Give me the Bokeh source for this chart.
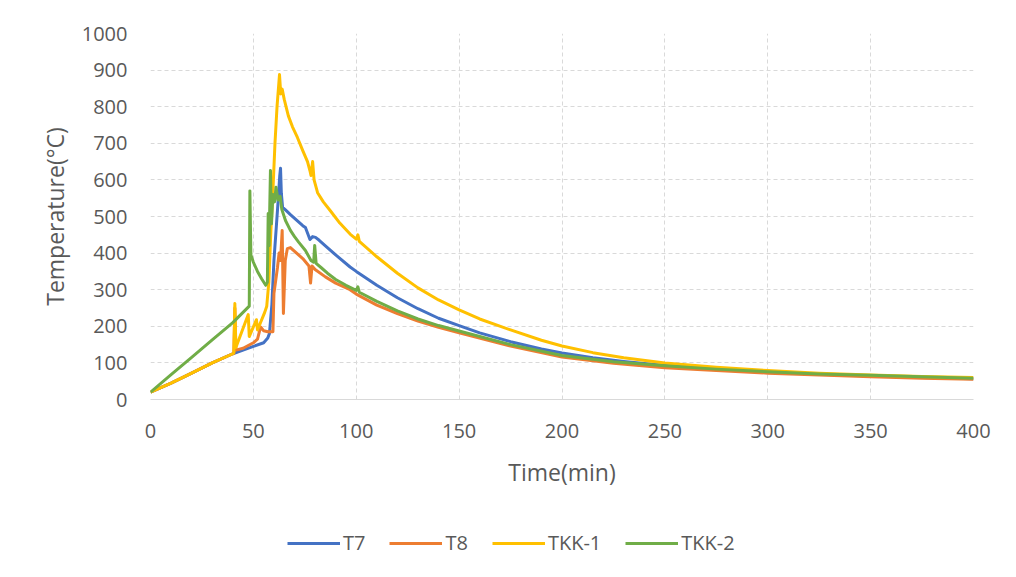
from bokeh.plotting import figure
from bokeh.layouts import column
from bokeh.models import Range1d, Legend, LegendItem, FixedTicker
from bokeh.embed import file_html
from bokeh.resources import INLINE

# ---- data ----
t7_t = [0, 10, 20, 30, 40, 45, 50, 55, 57, 57.8, 59, 60, 61, 62, 62.8, 63.2, 63.6, 64.2, 65.6, 68, 71, 74, 75.3, 77.5, 78.8, 80.2, 82, 85, 90, 97, 100, 110, 120, 130, 140, 150, 160, 175, 190, 200, 215, 230, 250, 275, 300, 325, 350, 375, 400]
t7_v = [20, 45, 72, 100, 125, 135, 145, 155, 168, 180, 260, 380, 460, 540, 610, 632, 563, 525, 518, 505, 490, 475, 470, 437, 445, 443, 435, 420, 395, 362, 350, 312, 278, 248, 222, 202, 182, 158, 138, 127, 114, 104, 93, 82, 75, 69, 64, 60, 57]

t8_t = [0, 10, 20, 30, 40, 40.5, 41, 41.5, 45, 50, 52, 53.5, 55, 57, 59.5, 60, 61.7, 62.5, 63.2, 64, 64.6, 65.5, 66.5, 68, 71, 74, 77, 77.8, 78.5, 80, 85, 90, 97, 100, 110, 120, 130, 140, 150, 175, 200, 225, 250, 275, 300, 325, 350, 375, 400]
t8_v = [20, 45, 72, 100, 125, 126, 250, 135, 140, 155, 165, 198, 188, 185, 185, 290, 360, 400, 380, 462, 235, 380, 412, 415, 400, 385, 365, 318, 365, 355, 335, 318, 300, 288, 258, 235, 214, 197, 182, 146, 116, 99, 87, 79, 72, 67, 62, 58, 55]

tkk1_t = [0, 10, 20, 30, 40, 40.5, 41, 41.5, 47.5, 48, 51.5, 52, 55.5, 56.5, 57.5, 58.5, 59.5, 60.5, 61.5, 62.7, 63.3, 64, 65, 67, 69, 71.4, 74, 76.3, 77.5, 78, 78.8, 79.5, 81.2, 84, 87.5, 92, 97, 100, 100.8, 101.5, 110, 120, 130, 140, 150, 160, 175, 190, 200, 215, 230, 250, 275, 300, 325, 350, 375, 400]
tkk1_v = [20, 45, 72, 100, 125, 128, 262, 142, 232, 172, 218, 190, 238, 255, 320, 460, 570, 700, 800, 888, 835, 848, 820, 775, 745, 716, 680, 650, 625, 612, 650, 600, 565, 540, 515, 482, 452, 438, 450, 432, 390, 345, 305, 272, 245, 220, 190, 162, 146, 128, 114, 100, 88, 79, 72, 67, 63, 60]

tkk2_t = [0, 10, 20, 30, 40, 48, 48.3, 48.8, 50, 52, 54, 56, 56.8, 57.2, 57.6, 58.3, 58.8, 59.5, 60.3, 61, 62, 63, 63.8, 65.6, 68, 70, 72, 75.3, 78, 79.3, 79.8, 80.5, 83, 86, 90, 95, 100, 100.8, 101.5, 110, 120, 130, 140, 150, 175, 200, 225, 250, 275, 300, 325, 350, 375, 400]
tkk2_v = [20, 68, 115, 163, 210, 255, 570, 395, 375, 350, 330, 312, 320, 508, 420, 626, 480, 560, 540, 580, 545, 555, 520, 489, 462, 445, 430, 407, 380, 375, 421, 372, 360, 345, 328, 312, 298, 308, 293, 268, 242, 220, 202, 187, 150, 120, 103, 92, 83, 76, 70, 66, 62, 58]

x_ticks = [0, 50, 100, 150, 200, 250, 300, 350, 400]
y_ticks = [0, 100, 200, 300, 400, 500, 600, 700, 800, 900, 1000]

names = ["T7", "T8", "TKK-1", "TKK-2"]
colors = ["#4472C4", "#ED7D31", "#FFC000", "#70AD47"]

FONT = "Open Sans"
TXT = "#595959"
GRID = "#d9d9d9"

p = figure(frame_width=823, frame_height=366, output_backend="svg", toolbar_location=None,
           x_range=Range1d(0, 400), y_range=Range1d(0, 1000),
           min_border_left=150, min_border_right=35, min_border_top=33, min_border_bottom=100)
p.outline_line_color = None
p.background_fill_color = "white"
p.border_fill_color = "white"

p.xaxis.ticker = FixedTicker(ticks=x_ticks)
p.yaxis.ticker = FixedTicker(ticks=y_ticks)
for ax in (p.xaxis[0], p.yaxis[0]):
    ax.major_tick_line_color = None
    ax.minor_tick_line_color = None
    ax.major_tick_out = 0
    ax.major_tick_in = 0
    ax.major_label_text_font = FONT
    ax.major_label_text_font_size = "20px"
    ax.major_label_text_color = TXT
    ax.axis_label_text_font = FONT
    ax.axis_label_text_font_size = "23px"
    ax.axis_label_text_font_style = "normal"
    ax.axis_label_text_color = TXT
p.xaxis.axis_line_color = GRID
p.yaxis.axis_line_color = None
p.xaxis.axis_label = "Time(min)"
p.yaxis.axis_label = "Temperature(°C)"
p.xaxis.major_label_standoff = 24
p.yaxis.major_label_standoff = 23
p.xaxis.axis_label_standoff = 15
p.yaxis.axis_label_standoff = 8

for g in (p.xgrid[0], p.ygrid[0]):
    g.grid_line_color = GRID
    g.grid_line_dash = "4 3"
    g.grid_line_width = 1

series = [(t7_t, t7_v), (t8_t, t8_v), (tkk1_t, tkk1_v), (tkk2_t, tkk2_v)]
for (tt, vv), c in zip(series, colors):
    p.line(tt, vv, line_color=c, line_width=3, line_join="round")

# ---- legend strip (separate figure below the chart; its view range shows none of the data) ----
lg = figure(width=1008, height=80, output_backend="svg", toolbar_location=None,
            x_range=Range1d(-2, -1), y_range=Range1d(-2, -1),
            min_border_left=0, min_border_right=0, min_border_top=0, min_border_bottom=0)
lg.axis.visible = False
lg.grid.visible = False
lg.outline_line_color = None
lg.border_fill_color = "white"
items = []
for (tt, vv), n, c in zip(series, names, colors):
    r = lg.line(tt, vv, line_color=c, line_width=3)
    items.append(LegendItem(label=n, renderers=[r]))
legend = Legend(items=items, orientation="horizontal", location=(137, 23),
                glyph_width=53, glyph_height=20, label_standoff=3, spacing=24,
                label_text_font=FONT, label_text_font_size="20px", label_text_color=TXT,
                border_line_color=None, background_fill_alpha=0,
                padding=10, margin=0)
lg.add_layout(legend, "center")

layout = column(p, lg, spacing=0)
open("out.html", "w").write(file_html(layout, INLINE))
